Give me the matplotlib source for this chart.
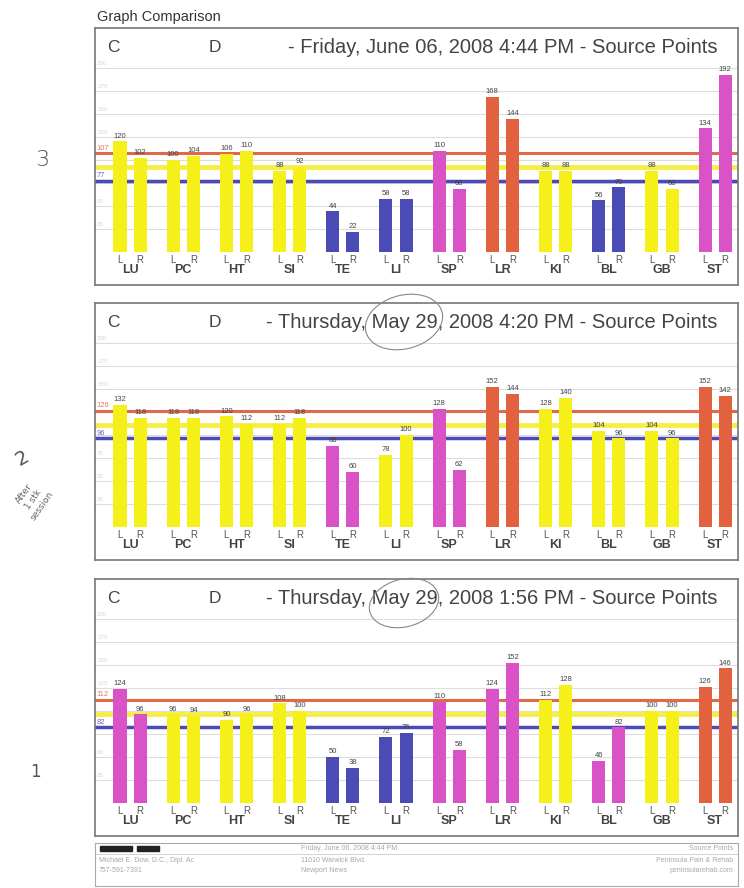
import numpy as np
import matplotlib
matplotlib.use('Agg')
import matplotlib.pyplot as plt
from matplotlib.patches import Ellipse, Rectangle

plt.rcParams['font.family'] = ['Liberation Sans', 'DejaVu Sans']

# %% Data
categories = ['LU', 'PC', 'HT', 'SI', 'TE', 'LI', 'SP', 'LR', 'KI', 'BL', 'GB', 'ST']

# session 3 - Friday, June 06, 2008 4:44 PM
s3_left = [120, 100, 106, 88, 44, 58, 110, 168, 88, 56, 88, 134]
s3_right = [102, 104, 110, 92, 22, 58, 68, 144, 88, 70, 68, 192]
s3_colors = ['Y', 'Y', 'Y', 'Y', 'B', 'B', 'M', 'O', 'Y', 'B', 'Y', 'M']
s3_refs = [107, 92, 77]  # red, yellow, blue

# session 2 - Thursday, May 29, 2008 4:20 PM
s2_left = [132, 118, 120, 112, 88, 78, 128, 152, 128, 104, 104, 152]
s2_right = [118, 118, 112, 118, 60, 100, 62, 144, 140, 96, 96, 142]
s2_colors = ['Y', 'Y', 'Y', 'Y', 'M', 'Y', 'M', 'O', 'Y', 'Y', 'Y', 'O']
s2_refs = [126, 111, 96]

# session 1 - Thursday, May 29, 2008 1:56 PM
s1_left = [124, 96, 90, 108, 50, 72, 110, 124, 112, 46, 100, 126]
s1_right = [96, 94, 96, 100, 38, 76, 58, 152, 128, 82, 100, 146]
s1_colors = ['M', 'Y', 'Y', 'Y', 'B', 'B', 'M', 'M', 'Y', 'M', 'Y', 'O']
s1_refs = [112, 97, 82]

titles = ['- Friday, June 06, 2008 4:44 PM - Source Points',
          '- Thursday, May 29, 2008 4:20 PM - Source Points',
          '- Thursday, May 29, 2008 1:56 PM - Source Points']

palette = {'Y': '#F6F01A', 'M': '#D952C6', 'O': '#E2613F', 'B': '#4B4BB6'}
ref_colors = ['#E0694A', '#F4EE46', '#4A4AB8']

# %% Layout (pixels of a 744x888 page)
W, H = 744, 888
fig = plt.figure(figsize=(W / 100, H / 100), dpi=100)
fig.patch.set_facecolor('white')

def px_axes(x0, y0, x1, y1):
    return fig.add_axes([x0 / W, 1 - y1 / H, (x1 - x0) / W, (y1 - y0) / H])

fig.text(97 / W, 1 - 17 / H, 'Graph Comparison', fontsize=10.5, color='#333333', va='center')

panels = [
    (28, s3_left, s3_right, s3_colors, s3_refs, titles[0]),
    (303, s2_left, s2_right, s2_colors, s2_refs, titles[1]),
    (579, s1_left, s1_right, s1_colors, s1_refs, titles[2]),
]

scale = 0.922  # px per unit
x = np.arange(len(categories))
for top, left, right, cols, refs, title in panels:
    ax = px_axes(95, top, 738, top + 257)
    ax.set_xlim(-0.66, 11.43)
    ax.set_ylim(-33 / scale, 224 / scale)
    for sp in ax.spines.values():
        sp.set_color('#777777')
        sp.set_linewidth(1.2)
    ax.set_xticks([])
    ax.set_yticks([])

    # grid
    for g in range(25, 201, 25):
        ax.axhline(g, color='#dddddd', lw=0.8, zorder=0)
        if min(abs(g + 2 - r) for r in refs) > 14:
            ax.text(-0.62, g + 2, str(g), fontsize=4.5, color='#d8d8d8', va='bottom')

    # reference lines
    for val, c, lw in zip(refs, ref_colors, [2.2, 3.5, 2.5]):
        ax.axhline(val, color=c, lw=lw, zorder=1)
    ax.text(-0.63, refs[0] + 2, str(refs[0]), fontsize=5.5, color='#E07A60', va='bottom')
    ax.text(-0.63, refs[2] + 2, str(refs[2]), fontsize=5.5, color='#6a6ac0', va='bottom')

    bar_c = [palette[c] for c in cols]
    ax.bar(x - 0.19, left, width=0.245, color=bar_c, zorder=2)
    ax.bar(x + 0.19, right, width=0.245, color=bar_c, zorder=2)
    for i in range(len(categories)):
        ax.text(x[i] - 0.19, left[i] + 2, str(left[i]), fontsize=5.5, color='#444444',
                ha='center', va='bottom', zorder=3)
        ax.text(x[i] + 0.19, right[i] + 2, str(right[i]), fontsize=5.5, color='#444444',
                ha='center', va='bottom', zorder=3)
        ax.text(x[i] - 0.19, -3, 'L', fontsize=7, color='#555555', ha='center', va='top')
        ax.text(x[i] + 0.19, -3, 'R', fontsize=7, color='#555555', ha='center', va='top')
        ax.text(x[i], -13, categories[i], fontsize=9, fontweight='bold', color='#444444',
                ha='center', va='top')

    ax.text(-0.32, 222, 'C', fontsize=12.5, color='#444444', va='center', ha='center')
    ax.text(1.60, 222, 'D', fontsize=12.5, color='#444444', va='center', ha='center')
    ax.text(11.05, 222, title, fontsize=14.5, color='#444444', va='center', ha='right')

# hand drawn circles around "May 29"
for cy, w_, h_ in [(322, 78, 54), (603, 70, 48)]:
    fig.patches.append(Ellipse((404 / W, 1 - cy / H), w_ / W, h_ / H, fill=False,
                               ec='#888888', lw=0.8, transform=fig.transFigure, angle=10))

# handwritten notes
fig.text(42 / W, 1 - 160 / H, '3', fontsize=16, color='#555555', ha='center', va='center',
         family='DejaVu Sans', fontweight='light')
fig.text(22 / W, 1 - 458 / H, '2', fontsize=14, color='#555555', ha='center', va='center',
         rotation=30, family='DejaVu Sans')
fig.text(33 / W, 1 - 500 / H, 'After\n1 stk\nsession', fontsize=6.5, color='#666666',
         ha='center', va='center', rotation=55, linespacing=1.3, family='DejaVu Sans')
fig.text(35 / W, 1 - 772 / H, '1', fontsize=12, color='#555555', ha='center', va='center',
         family='DejaVu Sans')

# footer box
fax = px_axes(95, 843, 738, 886)
fax.set_xlim(0, 643)
fax.set_ylim(43, 0)
fax.set_xticks([])
fax.set_yticks([])
for sp in fax.spines.values():
    sp.set_color('#aaaaaa')
    sp.set_linewidth(0.8)
fax.add_patch(Rectangle((5, 3), 32, 5, color='#222222'))
fax.add_patch(Rectangle((42, 3), 22, 5, color='#222222'))
fax.plot([0, 643], [11, 11], color='#cccccc', lw=0.6)
foot_c = '#a8a8a8'
fax.text(4, 17, 'Michael E. Dow, D.C., Dipl. Ac', fontsize=5, color=foot_c, va='center')
fax.text(4, 27, '757-591-7391', fontsize=5, color=foot_c, va='center')
fax.text(206, 5, 'Friday, June 06, 2008 4:44 PM', fontsize=5, color=foot_c, va='center')
fax.text(206, 17, '11010 Warwick Blvd.', fontsize=5, color=foot_c, va='center')
fax.text(206, 27, 'Newport News', fontsize=5, color=foot_c, va='center')
fax.text(638, 5, 'Source Points', fontsize=5, color=foot_c, va='center', ha='right')
fax.text(638, 17, 'Peninsula Pain & Rehab', fontsize=5, color=foot_c, va='center', ha='right')
fax.text(638, 27, 'peninsularehab.com', fontsize=5, color=foot_c, va='center', ha='right')

fig.savefig('out.png', dpi=100)
